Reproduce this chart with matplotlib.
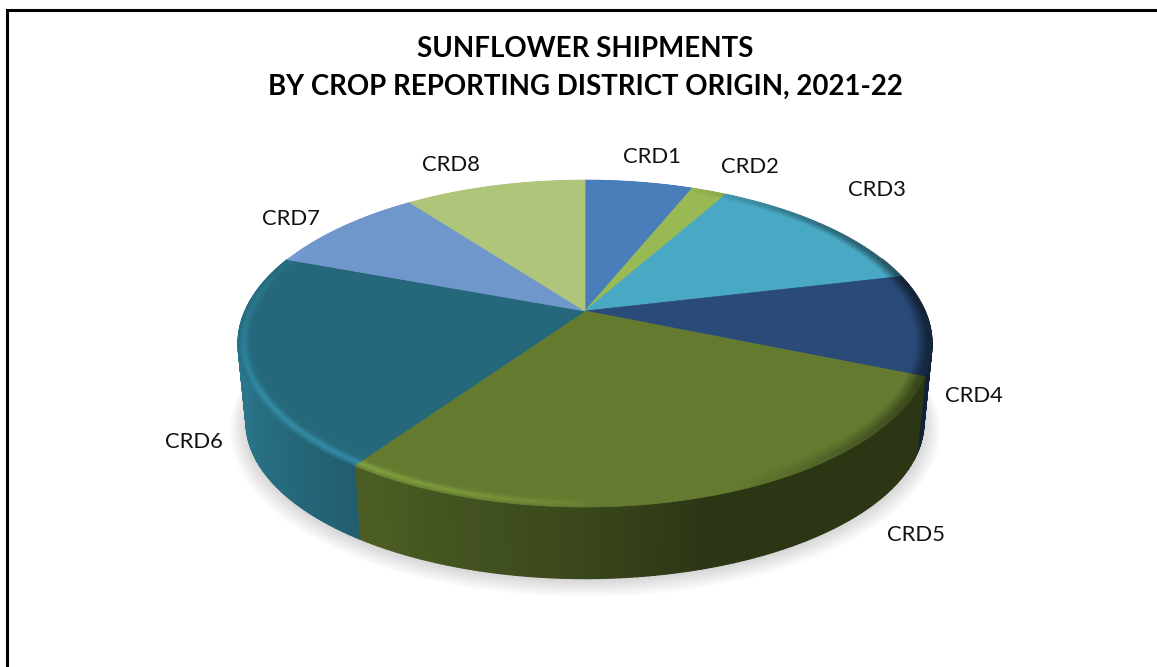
import numpy as np
import matplotlib
matplotlib.use("Agg")
import matplotlib.pyplot as plt
from matplotlib.collections import PolyCollection
from matplotlib.colors import to_rgb

categories = ["CRD1", "CRD2", "CRD3", "CRD4", "CRD5", "CRD6", "CRD7", "CRD8"]
shares = [6.1, 2.0, 13.2, 10.0, 28.3, 21.1, 9.1, 10.2]
colors = ["#4a7ebb", "#98b954", "#49a9c5", "#2a4b78", "#637a2f", "#25687b", "#6f97cb", "#aec57a"]
wall_gain = [1, 1, 1, 1, 1, 1.16, 1, 1]
label_xy = [(652, 157), (750, 167), (877, 190), (974, 396), (916, 535), (194, 442), (291, 219), (451, 165)]
title_lines = ["SUNFLOWER SHIPMENTS", "BY CROP REPORTING DISTRICT ORIGIN, 2021-22"]

W, H = 1157, 667
fig = plt.figure(figsize=(W / 100, H / 100), dpi=100, facecolor="white")
ax = fig.add_axes([0, 0, 1, 1])
ax.set_xlim(0, W)
ax.set_ylim(H, 0)
ax.axis("off")


def top(theta, r=1.0):
    u, v = r * np.sin(theta), r * np.cos(theta)
    w = 1 + 0.199 * v
    return 585 + 340 * u / w, 311 - 157 * v / w


def low(theta, grow=0.0):
    u, v = np.sin(theta), np.cos(theta)
    w = 1 + 0.2 * v
    return 585 + (332 + grow) * u / w, 391 + grow * 0.35 - (150 + grow * 0.6) * v / w


# soft shadow under the pie
full = np.linspace(0, 2 * np.pi, 240)
for g in np.linspace(16, 0, 14):
    x, y = low(full, g)
    ax.fill(x, y + 1, color="#808080", alpha=0.022, lw=0, zorder=1)

edges = np.radians(np.concatenate([[0], np.cumsum(shares)]) / np.sum(shares) * 360)


def wall_factor(theta):
    u = np.sin(theta)
    return np.interp(u, [-1, -0.57, 0, 0.3, 1], [0.98, 0.77, 0.58, 0.44, 0.44])


def rim_mix(theta, r):
    """brightening (+) or darkening (-) of the bevel along the rim"""
    u, v = np.sin(theta), np.cos(theta)
    bump = np.exp(-((r - 0.985) / 0.012) ** 2)
    light = np.clip(-u * 1.6, 0, 1) ** 0.5 * np.clip(0.5 - v, 0, 1)
    dark = np.clip((u - 0.35) * 1.4, 0, 1) * np.clip((r - 0.955) / 0.035, 0, 1)
    return 0.32 * light * bump - dark


polys, cols = [], []
for c, gain, a0, a1 in zip(colors, wall_gain, edges[:-1], edges[1:]):
    base = np.array(to_rgb(c)) * gain
    n = max(int((a1 - a0) * 70), 2)
    th = np.linspace(a0, a1, n + 1)
    for t0, t1 in zip(th[:-1], th[1:]):
        tm = (t0 + t1) / 2
        if np.cos(tm) > 0.35:
            continue
        x0, y0 = top(t0)
        x1, y1 = top(t1)
        x2, y2 = low(t1)
        x3, y3 = low(t0)
        polys.append([(x0, y0), (x1, y1), (x2, y2), (x3, y3)])
        cols.append(np.clip(base * wall_factor(tm), 0, 1))

ax.add_collection(PolyCollection(polys, facecolors=cols, edgecolors=cols, linewidths=1.0, zorder=2))

polys, cols = [], []
radii = np.linspace(0.94, 1.0, 13)
for c, a0, a1 in zip(colors, edges[:-1], edges[1:]):
    base = np.array(to_rgb(c))
    th = np.linspace(a0, a1, max(int((a1 - a0) * 70), 2) + 1)
    x, y = top(th, radii[0])
    polys.append([(585, 311)] + list(zip(x, y)))
    cols.append(base)
    for r0, r1 in zip(radii[:-1], radii[1:]):
        for t0, t1 in zip(th[:-1], th[1:]):
            tm, rm = (t0 + t1) / 2, (r0 + r1) / 2
            m = rim_mix(tm, rm)
            col = base * (1 + m) if m > 0 else base * (1 + 0.55 * m)
            xa, ya = top(np.array([t0, t1]), r0)
            xb, yb = top(np.array([t1, t0]), r1)
            polys.append(list(zip(xa, ya)) + list(zip(xb, yb)))
            cols.append(np.clip(col, 0, 1))
ax.add_collection(PolyCollection(polys, facecolors=cols, edgecolors=cols, linewidths=0.5, zorder=3))

# frame: only the top and left sides are inside the crop
ax.plot([7, 7, W], [H, 9.5, 9.5], color="black", lw=2.2, solid_joinstyle="miter", zorder=5)

for y, line in zip([49, 87], title_lines):
    ax.text(585, y, line, ha="center", va="center", family="Lato", weight="bold",
            fontsize=19.9, color="black", zorder=6)

for name, (x, y) in zip(categories, label_xy):
    ax.text(x, y, name, ha="center", va="center", family="Lato", fontsize=15.8, color="#111111", zorder=6)

fig.savefig("out.png", dpi=100)
